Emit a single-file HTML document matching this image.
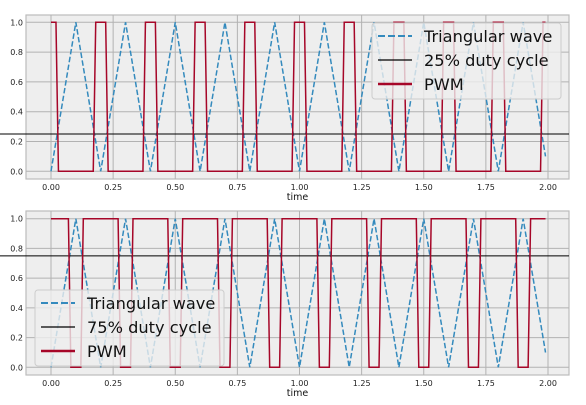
<!DOCTYPE html>
<html><head><meta charset="utf-8"><style>
body{margin:0;background:#fff;}
svg{display:block;font-family:"DejaVu Sans","Liberation Sans",sans-serif;}
</style></head><body>
<svg id="fig" width="586" height="405" viewBox="0 0 586 405" xmlns="http://www.w3.org/2000/svg"></svg>
<script>
// ---- data ----
const triTimes = [0,0.1,0.2,0.3,0.4,0.5,0.6,0.7,0.8,0.9,1.0,1.1,1.2,1.3,1.4,1.5,1.6,1.7,1.8,1.9,1.99];
const triValues = [0,1,0,1,0,1,0,1,0,1,0,1,0,1,0,1,0,1,0,1,0.1];
const xTicks = [0,0.25,0.5,0.75,1.0,1.25,1.5,1.75,2.0];
const xTickLabels = ["0.00","0.25","0.50","0.75","1.00","1.25","1.50","1.75","2.00"];
const yTicks = [0,0.2,0.4,0.6,0.8,1.0];
const yTickLabels = ["0.0","0.2","0.4","0.6","0.8","1.0"];
const dutyTop = 0.25;
const dutyBottom = 0.75;
const pwmTopTimes = [0,0.02,0.03,0.17,0.18,0.22,0.23,0.37,0.38,0.42,0.43,0.57,0.58,0.62,0.63,0.77,0.78,0.82,0.83,0.97,0.98,1.02,1.03,1.17,1.18,1.22,1.23,1.37,1.38,1.42,1.43,1.57,1.58,1.62,1.63,1.77,1.78,1.82,1.83,1.97,1.98,1.99];
const pwmTopValues = [1,1,0,0,1,1,0,0,1,1,0,0,1,1,0,0,1,1,0,0,1,1,0,0,1,1,0,0,1,1,0,0,1,1,0,0,1,1,0,0,1,1];
const pwmBottomTimes = [0,0.07,0.08,0.12,0.13,0.27,0.28,0.32,0.33,0.47,0.48,0.52,0.53,0.67,0.68,0.72,0.73,0.87,0.88,0.92,0.93,1.07,1.08,1.12,1.13,1.27,1.28,1.32,1.33,1.47,1.48,1.52,1.53,1.67,1.68,1.72,1.73,1.87,1.88,1.92,1.93,1.99];
const pwmBottomValues = [1,1,0,0,1,1,0,0,1,1,0,0,1,1,0,0,1,1,0,0,1,1,0,0,1,1,0,0,1,1,0,0,1,1,0,0,1,1,0,0,1,1];

const NS="http://www.w3.org/2000/svg";
const svg=document.getElementById('fig');
function mk(tag,attrs,parent){const e=document.createElementNS(NS,tag);for(const k in attrs)e.setAttribute(k,attrs[k]);(parent||svg).appendChild(e);return e;}

function panel(cfg){
  const L=26,R=569,X0=51,X2=548;
  const sx=t=>X0+(X2-X0)*t/2;
  const sy=v=>cfg.y0+(cfg.y1-cfg.y0)*v;
  const g=mk('g',{});
  
  
  const bg=mk('rect',{x:L,y:cfg.top,width:R-L,height:cfg.bot-cfg.top,fill:'#eeeeee',stroke:'#bcbcbc','stroke-width':1.2},g);
  
  
  xTicks.forEach((t,i)=>{
    const gl=mk('line',{x1:sx(t),x2:sx(t),y1:cfg.top,y2:cfg.bot,stroke:'#b2b2b2','stroke-width':1},g);
    
    
    const tx=mk('text',{x:sx(t),y:cfg.bot+11,'font-size':8,'text-anchor':'middle',fill:'#222'},g);
    tx.textContent=xTickLabels[i];
    
    
  });
  yTicks.forEach((v,i)=>{
    const gl=mk('line',{x1:L,x2:R,y1:sy(v),y2:sy(v),stroke:'#b2b2b2','stroke-width':1},g);
    
    
    const tx=mk('text',{x:L-3,y:sy(v)+3,'font-size':8,'text-anchor':'end',fill:'#222'},g);
    tx.textContent=yTickLabels[i];
    
    
  });
  const xl=mk('text',{x:(L+R)/2,y:cfg.bot+21,'font-size':9.5,'text-anchor':'middle',fill:'#111'},g);
  xl.textContent='time';
  
  
  const tri=mk('polyline',{points:triTimes.map((t,i)=>sx(t)+','+sy(triValues[i])).join(' '),fill:'none',stroke:'#348ABD','stroke-width':1.5,'stroke-dasharray':'5.5,2.4'},g);
  
  
  const dl=mk('line',{x1:0,x2:R,y1:sy(cfg.duty),y2:sy(cfg.duty),stroke:'#000','stroke-width':1},g);
  
  
  const pw=mk('polyline',{points:cfg.pt.map((t,i)=>sx(t)+','+sy(cfg.pv[i])).join(' '),fill:'none',stroke:'#A60628','stroke-width':1.5},g);
  
  
  // legend
  const lg=mk('g',{},g);
  
  
  const lb=mk('rect',{x:cfg.lx,y:cfg.ly,width:189,height:76,rx:3,fill:'#eeeeee','fill-opacity':0.8,stroke:'#cccccc','stroke-width':1},lg);
  
  
  const items=[['Triangular wave','#348ABD','7,3',1.5],[cfg.label,'#000','',1],['PWM','#A60628','',2]];
  items.forEach((it,i)=>{
    const yy=cfg.ly+13+i*24;
    const ln=mk('line',{x1:cfg.lx+6,x2:cfg.lx+40,y1:yy,y2:yy,stroke:it[1],'stroke-width':it[3]*1.3},lg);
    if(it[2])ln.setAttribute('stroke-dasharray',it[2]);
    
    
    const tx=mk('text',{x:cfg.lx+52,y:yy+6,'font-size':16.2,fill:'#111'},lg);
    tx.textContent=it[0];
    
    
  });
}
panel({name:'top-panel',top:15,bot:179,y0:171.3,y1:22.3,duty:dutyTop,pt:pwmTopTimes,pv:pwmTopValues,label:'25% duty cycle',lx:372,ly:23});
panel({name:'bottom-panel',top:211,bot:375,y0:367.3,y1:218.7,duty:dutyBottom,pt:pwmBottomTimes,pv:pwmBottomValues,label:'75% duty cycle',lx:35,ly:290});
</script>
</body></html>
